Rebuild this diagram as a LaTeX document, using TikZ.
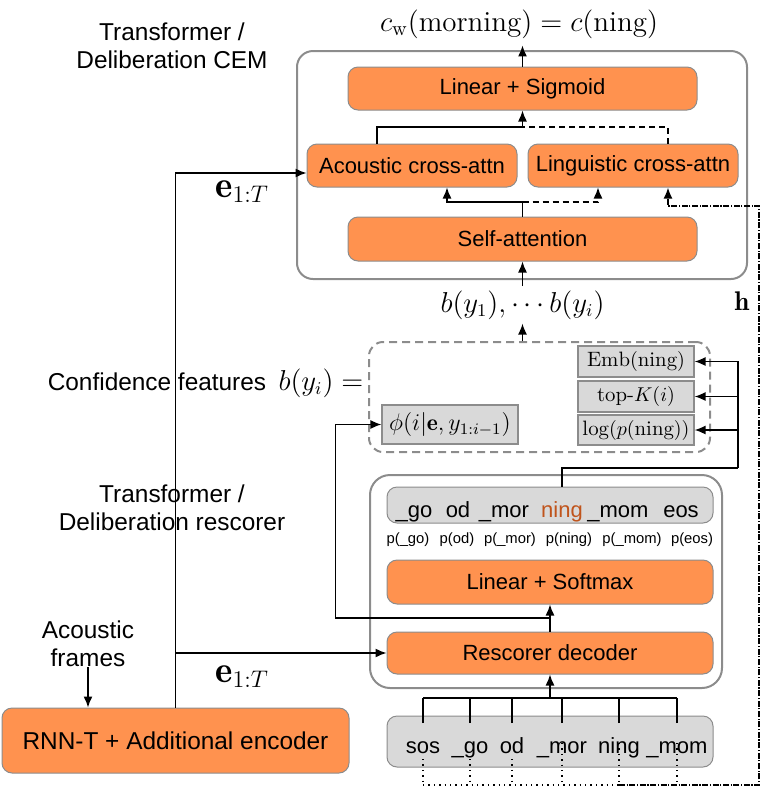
\documentclass[tikz,border=0pt]{standalone}
\usepackage{fontspec}
\usepackage{amsmath}
\newfontfamily\hv{Liberation Sans}
\usetikzlibrary{arrows.meta,calc,fit}
\definecolor{boxorange}{RGB}{255,146,79}
\definecolor{boxgray}{RGB}{217,217,217}
\definecolor{edgegray}{RGB}{140,140,140}
\definecolor{ningcol}{RGB}{192,84,28}
\begin{document}
\begin{tikzpicture}[x=0.5pt,y=-0.5pt,
 obox/.style={draw=edgegray, fill=boxorange, rounded corners=5pt, inner sep=0pt, line width=0.5pt, font=\hv\fontsize{11}{13}\selectfont},
 gbox/.style={draw=edgegray, fill=boxgray, rounded corners=5pt, inner sep=0pt, line width=0.5pt},
 fbox/.style={draw=edgegray, fill=boxgray, inner sep=0pt, line width=0.6pt, minimum width=58pt, font=\fontsize{10.4}{12}\selectfont},
 outerbox/.style={draw=edgegray, line width=1pt, rounded corners=8pt, inner sep=0pt},
 lbl/.style={font=\hv\fontsize{12.2}{14}\selectfont, align=center, inner sep=0pt},
 tok/.style={font=\hv\fontsize{11}{13}\selectfont, anchor=base, inner sep=0pt},
 ptok/.style={font=\hv\fontsize{7.4}{9}\selectfont, anchor=base, inner sep=0pt},
 conn/.style={line width=0.7pt},
 arr/.style={conn, -{Latex[length=5.5pt,width=4.5pt]}},
]
\useasboundingbox (0,0) rectangle (781,810);

% outer containers
\node[outerbox, fit={(297,51) (747,279)}] (cem) {};
\node[outerbox, rounded corners=10pt, fit={(370,475) (722,688)}] (resc) {};
\node[draw=edgegray, dash pattern=on 4pt off 2.5pt, line width=1pt, rounded corners=7pt, inner sep=0pt, fit={(369,342) (710,452)}] (cf) {};

% CEM blocks
\node[obox, minimum width=174.5pt, minimum height=21.5pt] (lin) at (522.5,88.5) {Linear + Sigmoid};
\node[obox, minimum width=105pt, minimum height=21.5pt] (aca) at (412,165.5) {Acoustic cross-attn};
\node[obox, minimum width=105pt, minimum height=21.5pt] (lig) at (633,165.5) {Linguistic cross-attn};
\node[obox, minimum width=174.5pt, minimum height=22pt] (sa) at (522.5,239) {Self-attention};

% rescorer blocks
\node[gbox, minimum width=163pt, minimum height=18pt] (trow) at (550,505) {};
\node[obox, minimum width=163pt, minimum height=22pt] (ls) at (550,582) {Linear + Softmax};
\node[obox, minimum width=163pt, minimum height=21pt] (rd) at (550,653) {Rescorer decoder};
\node[gbox, minimum width=163pt, minimum height=25.5pt] (srow) at (550,741.5) {};

% encoder
\node[obox, font=\hv\fontsize{12.2}{14}\selectfont, minimum width=173.5pt, minimum height=32.5pt] (enc) at (175.5,740.5) {RNN-T + Additional encoder};

% feature boxes
\node[fbox, minimum height=15.5pt] (emb) at (636,361.5) {$\mathrm{Emb}(\mathrm{ning})$};
\node[fbox, minimum height=15.5pt] (topk) at (636,396.5) {top-$K(i)$};
\node[fbox, minimum height=15pt] (logp) at (636,430) {$\log(p(\mathrm{ning}))$};
\node[fbox, minimum width=68pt, minimum height=19.5pt, font=\fontsize{11.8}{13}\selectfont] (phi) at (450,424.5) {$\phi(i|\mathbf{e},y_{1:i-1})$};

% top token row
\node[tok] (r1) at (414,517) {\_go};
\node[tok] (r2) at (458,517) {od};
\node[tok] (r3) at (504,517) {\_mor};
\node[tok, text=ningcol] (r4) at (562,517) {ning};
\node[tok] (r5) at (618,517) {\_mom};
\node[tok] (r6) at (681,517) {eos};

% probabilities
\node[ptok] (p1) at (408,543) {p(\_go)};
\node[ptok] (p2) at (457,543) {p(od)};
\node[ptok] (p3) at (510,543) {p(\_mor)};
\node[ptok] (p4) at (569,543) {p(ning)};
\node[ptok] (p5) at (632,543) {p(\_mom)};
\node[ptok] (p6) at (692,543) {p(eos)};

% input token row
\node[tok] (s1) at (423,753) {sos};
\node[tok] (s2) at (470,753) {\_go};
\node[tok] (s3) at (512,753) {od};
\node[tok] (s4) at (562,753) {\_mor};
\node[tok] (s5) at (619,753) {ning};
\node[tok] (s6) at (677,753) {\_mom};

% texts
\node[font=\fontsize{14.5}{16}\selectfont] (title) at (519,24) {$c_{\mathrm{w}}(\mathrm{morning}) = c(\mathrm{ning})$};
\node[font=\fontsize{13.3}{15}\selectfont, anchor=base, inner sep=2pt] (bl) at (522.5,312) {$b(y_1),\cdots b(y_i)$};
\node[font=\fontsize{13.3}{15}\selectfont, anchor=base, inner sep=0pt] (beq) at (321,390) {$b(y_i) =$};
\node[lbl, anchor=base] (cfl) at (157,390) {Confidence features};
\node[lbl] (ceml) at (172,46) {Transformer /\\Deliberation CEM};
\node[lbl] (rscl) at (172,508) {Transformer /\\Deliberation rescorer};
\node[lbl] (af) at (88,644) {Acoustic\\frames};
\node[font=\fontsize{18.5}{21}\selectfont, anchor=base west, inner sep=0pt] (e1) at (215,197) {$\mathbf{e}_{1:T}$};
\node[font=\fontsize{18.5}{21}\selectfont, anchor=base west, inner sep=0pt] (e2) at (215,682) {$\mathbf{e}_{1:T}$};
\node[font=\fontsize{13.5}{15}\selectfont, anchor=base west, inner sep=0pt] (hl) at (734,310) {$\mathbf{h}$};

% CEM connectors
\draw[arr] (lin.north) -- (lin.north |- title.south);
\coordinate (j1) at (522.5,127);
\draw[arr] ($(aca.north)+(-35,0)$) |- (j1) -- (lin.south);
\draw[conn, dash pattern=on 3pt off 2pt] ($(lig.north)+(35,0)$) |- (j1);
\coordinate (j2) at (522.5,202);
\draw[conn] (sa.north) -- (j2);
\draw[arr] (j2) -| ($(aca.south)+(35,0)$);
\draw[arr, dash pattern=on 3pt off 2pt] (j2) -| ($(lig.south)+(-35,0)$);

% confidence features to CEM
\draw[arr] (sa.south |- cf.north) -- (sa.south |- bl.south);
\draw[arr] (sa.south |- bl.north) -- (sa.south);

% encoder connectors
\draw[arr] (enc.north) |- ($(aca.west)+(0,7.5)$);
\draw[arr] (enc.north |- rd.west) -- (rd.west);
\draw[arr] (af.south) -- (af.south |- enc.north);

% rescorer connectors
\draw[arr] (rd.north) -- (ls.south);
\coordinate (m1) at ($(rd.north)!0.5!(ls.south)$);
\draw[arr] (m1) -| ($(phi.west)+(-46,0)$) -- (phi.west);
\coordinate (bar) at ($(s1.base)+(0,-55)$);
\foreach \n in {1,...,6} \draw[conn] ($(s\n.base)+(0,-30)$) -- ($(s\n.base)+(0,-55)$);
\draw[conn] (bar) -- ($(s6.base)+(0,-55)$);
\draw[arr] (rd.south |- bar) -- (rd.south);

% ning to features
\coordinate (rj) at (738,468);
\draw[conn] (trow.north -| r4) |- (rj);
\draw[arr] (rj) |- (emb.east);
\draw[arr] (rj) |- (topk.east);
\draw[arr] (rj) |- (logp.east);

% h path
\foreach \n in {1,2,3} \draw[conn, dotted] ($(s\n.base)+(0,6)$) -- ($(s\n.base)+(0,32)$);
\foreach \n in {4,5,6} \draw[conn, dotted] ($(s\n.base)+(0,-10)$) -- ($(s\n.base)+(0,32)$);
\coordinate (hb) at (759,785);
\coordinate (ht) at (759,206);
\draw[conn, dotted] ($(s1.base)+(0,32)$) -- ($(s5.base)+(0,32)$);
\draw[arr, line width=0.9pt, dash pattern=on 3pt off 0.8pt on 0.6pt off 0.8pt] ($(s5.base)+(0,32)$) -- (hb) -- (ht) -| ($(lig.south)+(35,0)$);
\end{tikzpicture}
\end{document}
